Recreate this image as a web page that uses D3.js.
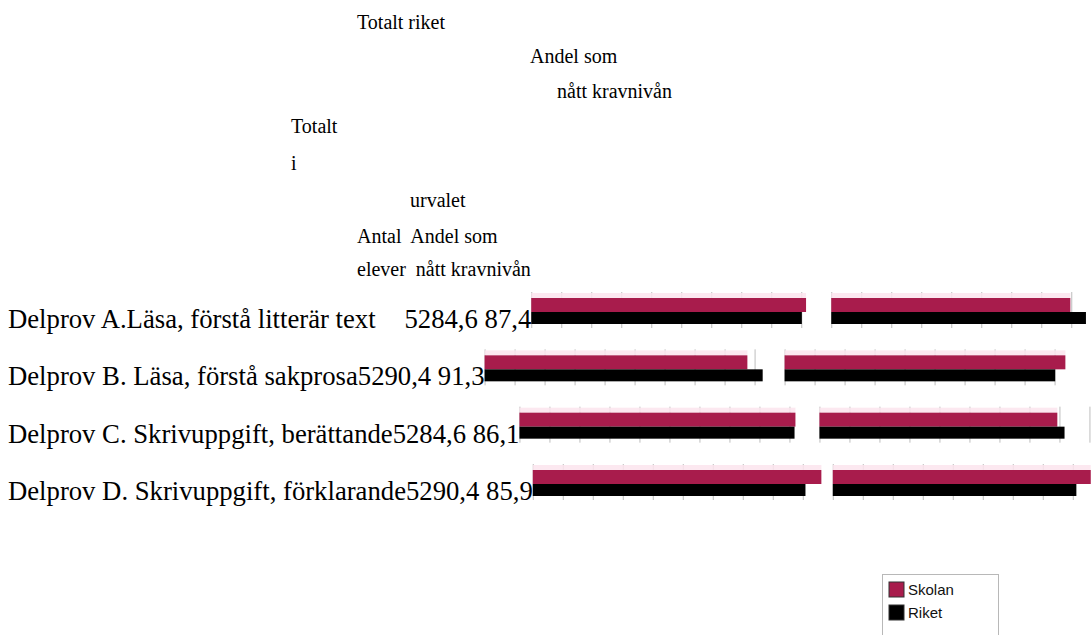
<!DOCTYPE html>
<html><head><meta charset="utf-8">
<script src="https://cdn.jsdelivr.net/npm/d3@7/dist/d3.min.js"></script>
<style>
html,body{margin:0;padding:0;background:#fff;overflow:hidden;}
svg{display:block;}
</style></head><body>
<script>
// ---- data ----
const categories = [
  "Delprov A.Läsa, förstå litterär text",
  "Delprov B. Läsa, förstå sakprosa",
  "Delprov C. Skrivuppgift, berättande",
  "Delprov D. Skrivuppgift, förklarande"
];
const gapAfterCategory = ["    \u200A", "", "", ""];
const antalElever = ["5284,6", "5290,4", "5284,6", "5290,4"];
const andelNatt = ["87,4", "91,3", "86,1", "85,9"];
const series = ["Skolan", "Riket"];
const skolanLeft  = [91.6, 87.6, 92.0, 96.2];
const riketLeft   = [90.2, 92.7, 91.7, 90.9];
const skolanRight = [79.7, 93.6, 79.3, 86.0];
const riketRight  = [84.9, 90.2, 81.7, 81.2];
const gridTicks = [0,10,20,30,40,50,60,70,80,90];
const headerLines = [
  "Totalt riket",
  "Andel som",
  "nått kravnivån",
  "Totalt",
  "i",
  "urvalet",
  "Antal  Andel som",
  "elever  nått kravnivån"
];
// ---- layout ----
const W = 1092, H = 635;
const headerX = [357, 530, 557, 291, 291, 410, 357, 357];
const headerBase = [29, 63, 98, 133, 170, 207, 243, 276];
const svg = d3.select("body").append("svg").attr("width", W).attr("height", H);

const pink = "#a81c4c", black = "#000000";

svg.append("g").selectAll("text").data(headerLines).join("text")
  .attr("x", (d,i)=>headerX[i]).attr("y", (d,i)=>headerBase[i])
  .attr("font-family","'Liberation Serif','Times New Roman',serif")
  .attr("font-size", 20).attr("fill","#000")
  .style("white-space","pre")
  .text(d=>d);

const x = d3.scaleLinear().domain([0,100]).range([0,300]);
const rowScale = d3.scalePoint().domain(d3.range(categories.length)).range([298, 470]);
const pinkH = 14, blackH = 12;

categories.forEach((cat,i)=>{
  const top = rowScale(i);
  const base = top + pinkH + blackH + 4;
  const label = svg.append("text")
    .attr("x", 8).attr("y", base)
    .attr("font-family","'Liberation Serif','Times New Roman',serif")
    .attr("font-size", 26.7).attr("fill","#000")
    .style("white-space","pre")
    .text(cat + gapAfterCategory[i] + antalElever[i] + " " + andelNatt[i]);
  const startX = 8 + label.node().getComputedTextLength();
  const panels = [[skolanLeft[i], riketLeft[i]], [skolanRight[i], riketRight[i]]];
  panels.forEach((vals,p)=>{
    const g = svg.append("g").attr("transform", `translate(${startX + x(100)*p},${top})`);
    g.selectAll("line").data(gridTicks).join("line")
      .attr("x1", d=>x(d)+0.5).attr("x2", d=>x(d)+0.5)
      .attr("y1", -6).attr("y2", pinkH+blackH+4)
      .attr("stroke", "#bdbdbd").attr("stroke-width", 1);
    g.append("rect").attr("x",0).attr("y",-5).attr("width",x(vals[0])).attr("height",5)
      .attr("fill","#fbe4ed").attr("fill-opacity",0.85);
    g.append("rect").attr("x",0).attr("y",0).attr("width",x(vals[0])).attr("height",pinkH)
      .attr("fill",pink);
    g.append("rect").attr("x",0).attr("y",pinkH).attr("width",x(vals[1])).attr("height",blackH)
      .attr("fill",black);
  });
});

// legend
const lg = svg.append("g").attr("transform","translate(882,574)");
lg.append("rect").attr("x",0.5).attr("y",0.5).attr("width",116).attr("height",80)
  .attr("fill","#fff").attr("stroke","#b8b8b8");
const color = d3.scaleOrdinal().domain(series).range([pink, black]);
const li = lg.selectAll("g.it").data(series).join("g").attr("class","it")
  .attr("transform",(d,i)=>`translate(7,${8+i*23})`);
li.append("rect").attr("width",15).attr("height",15).attr("fill",d=>color(d))
  .attr("stroke","#333").attr("stroke-width",1);
li.append("text").attr("x",19).attr("y",13).attr("font-family","'Liberation Sans',Arial,sans-serif")
  .attr("font-size",15).attr("fill","#111").text(d=>d);
</script>
</body></html>
